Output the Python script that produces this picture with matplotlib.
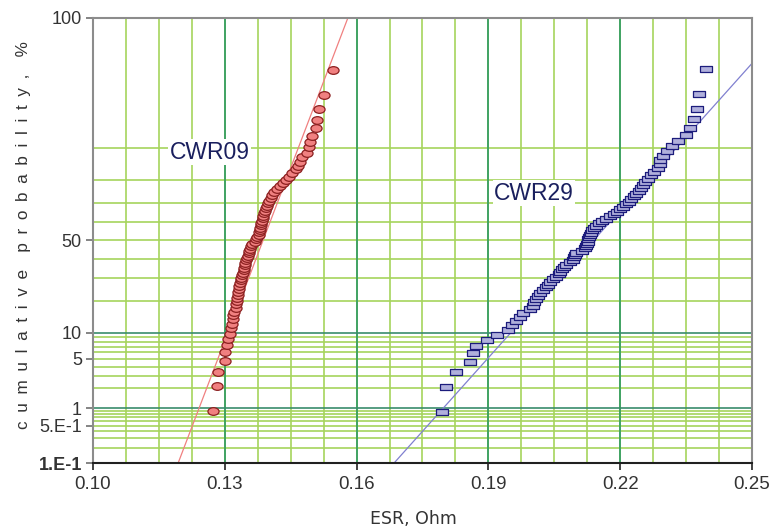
import matplotlib
matplotlib.use('Agg')
import matplotlib.pyplot as plt
import numpy as np
from statistics import NormalDist
from matplotlib.path import Path
from matplotlib.transforms import Affine2D

# ESR values (Ohm), sorted
esr_cwr09 = [0.1274, 0.1282, 0.1285, 0.1301, 0.1301, 0.1304, 0.1307, 0.1313,
             0.1315, 0.1316, 0.1318, 0.1319, 0.1322, 0.1325, 0.1326, 0.1327,
             0.1328, 0.1329, 0.1330, 0.1332, 0.1333, 0.1335, 0.1336, 0.1338,
             0.1339, 0.1341, 0.1343, 0.1344, 0.1346, 0.1347, 0.1349, 0.1351,
             0.1353, 0.1354, 0.1355, 0.1357, 0.1359, 0.1363, 0.1368, 0.1371,
             0.1374, 0.1377, 0.1379, 0.1380, 0.1381, 0.1382, 0.1383, 0.1384,
             0.1386, 0.1388, 0.1390, 0.1392, 0.1394, 0.1396, 0.1398, 0.1401,
             0.1405, 0.1408, 0.1413, 0.1419, 0.1425, 0.1432, 0.1439, 0.1447,
             0.1453, 0.1461, 0.1467, 0.1472, 0.1476, 0.1488, 0.1492, 0.1494,
             0.1498, 0.1508, 0.1509, 0.1514, 0.1526, 0.1546]

esr_cwr29 = [0.1794, 0.1804, 0.1827, 0.1859, 0.1864, 0.1872, 0.1897, 0.1920,
             0.1945, 0.1954, 0.1962, 0.1971, 0.1978, 0.1995, 0.2001, 0.2004,
             0.2009, 0.2014, 0.2018, 0.2025, 0.2030, 0.2035, 0.2040, 0.2046,
             0.2054, 0.2060, 0.2064, 0.2068, 0.2071, 0.2076, 0.2085, 0.2093,
             0.2095, 0.2096, 0.2099, 0.2112, 0.2119, 0.2122, 0.2125, 0.2126,
             0.2127, 0.2129, 0.2131, 0.2133, 0.2135, 0.2140, 0.2145, 0.2151,
             0.2158, 0.2167, 0.2177, 0.2185, 0.2192, 0.2199, 0.2207, 0.2213,
             0.2219, 0.2225, 0.2231, 0.2237, 0.2242, 0.2248, 0.2252, 0.2257,
             0.2264, 0.2271, 0.2278, 0.2287, 0.2290, 0.2291, 0.2297, 0.2306,
             0.2317, 0.2332, 0.2350, 0.2360, 0.2369, 0.2375, 0.2380, 0.2395]

# trend lines (normal fit): mean, sd
fit_cwr09 = (0.1387, 0.00625)
fit_cwr29 = (0.2139, 0.01468)

x_ticks = [0.10, 0.13, 0.16, 0.19, 0.22, 0.25]
y_ticks = [0.001, 0.005, 0.01, 0.05, 0.10, 0.50, 0.999]
y_labels = ['1.E-1', '5.E-1', '1', '5', '10', '50', '100']

nd = NormalDist()
def zq(p):
    return nd.inv_cdf(p)

def median_rank(n):
    return [(i - 0.3) / (n + 0.4) for i in range(1, n + 1)]

plt.rcParams['font.family'] = ['Liberation Sans', 'DejaVu Sans']

fig = plt.figure(figsize=(7.8, 5.31), dpi=100)
ax = fig.add_axes([0.1192, 0.128, 0.8449, 0.8382])

zlo, zhi = zq(0.001), zq(0.999)
ax.set_xlim(0.10, 0.25)
ax.set_ylim(zlo, zhi)

# grid
for xv in np.arange(0.10, 0.2501, 0.0075):
    ax.axvline(xv, color='#a6d45c', lw=1.2, zorder=0)
for xv in x_ticks[1:-1]:
    ax.axvline(xv, color='#2e9a62', lw=1.2, zorder=0.5)
minor_p = [k * d for d in (0.001, 0.01, 0.1) for k in range(2, 10)]
for p in minor_p:
    ax.axhline(zq(p), color='#a6d45c', lw=1.2, zorder=0)
for p in (0.01, 0.10):
    ax.axhline(zq(p), color='#3a8c6c', lw=1.2, zorder=0.5)

# trend lines
zz = np.array([zlo, zhi])
ax.plot(fit_cwr09[0] + fit_cwr09[1] * zz, zz, color='#f08080', lw=0.9, zorder=2)
ax.plot(fit_cwr29[0] + fit_cwr29[1] * zz, zz, color='#8080d0', lw=0.9, zorder=2)

# markers
ellipse = Path.unit_circle().transformed(Affine2D().scale(1.45, 1.0))
rect = Path([(-1.75, -1), (1.75, -1), (1.75, 1), (-1.75, 1), (-1.75, -1)],
            [Path.MOVETO, Path.LINETO, Path.LINETO, Path.LINETO, Path.CLOSEPOLY])

y09 = [zq(p) for p in median_rank(len(esr_cwr09))]
y29 = [zq(p) for p in median_rank(len(esr_cwr29))]
ax.plot(esr_cwr09, y09, ls='none', marker=ellipse, ms=8,
        mfc='#f08080', mec='#8b1f1f', mew=0.9, zorder=3)
ax.plot(esr_cwr29, y29, ls='none', marker=rect, ms=8.5,
        mfc='#b0b0dc', mec='#1c1c7c', mew=0.9, zorder=3)

ax.text(0.1266, zq(0.890), 'CWR09', fontsize=16.5, color='#1a1f5e',
        ha='center', va='center', zorder=4,
        bbox=dict(facecolor='white', edgecolor='none', pad=1))
ax.text(0.2004, zq(0.745), 'CWR29', fontsize=16.5, color='#1a1f5e',
        ha='center', va='center', zorder=4,
        bbox=dict(facecolor='white', edgecolor='none', pad=1))

# axes styling
ax.set_xticks(x_ticks)
ax.set_xticklabels(['%.2f' % v for v in x_ticks], fontsize=13.5, color='#333333')
ax.set_yticks([zq(p) for p in y_ticks])
ax.set_yticklabels(y_labels, fontsize=13, color='#333333')
ax.get_yticklabels()[0].set_fontweight('bold')
ax.tick_params(axis='y', length=5, width=1.2, color='#707070', pad=3)
ax.tick_params(axis='x', length=5, width=1.2, color='#202020', pad=4)

for s in ('left', 'top', 'right'):
    ax.spines[s].set_color('#8c8c8c')
    ax.spines[s].set_linewidth(1.5)
ax.spines['bottom'].set_color('#202020')
ax.spines['bottom'].set_linewidth(1.5)
for s in ax.spines.values():
    s.set_zorder(5)

fig.text(413 / 780, 1 - 519 / 531, 'ESR, Ohm', fontsize=12.5, color='#333333',
         family='DejaVu Sans', ha='center', va='center')
sp = '\u2002'
ylab = (sp * 2).join(sp.join(w) for w in ['cumulative', 'probability,', '%'])
ax.set_ylabel(ylab, fontsize=12.3, color='#333333')
ax.yaxis.set_label_coords(-0.094, 0.512)

fig.savefig('out.png', dpi=100)
